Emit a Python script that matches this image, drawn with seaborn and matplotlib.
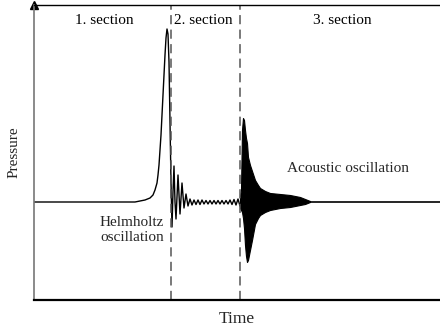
import numpy as np
import pandas as pd
import matplotlib
matplotlib.use("Agg")
import matplotlib.pyplot as plt
import seaborn as sns

# ---- data (arbitrary units) ----
# main trace: baseline, pressure rise, peak and Helmholtz oscillation
main_time = [0, 101, 111, 116, 119, 121, 123, 124, 125, 126, 127, 129, 131, 132, 133,
             134, 135, 136, 137, 138, 139, 140, 141, 142, 144, 146, 148, 150, 152, 154, 156]
main_pressure = [0, 0, 2, 4, 7, 12, 19, 27, 37, 52, 67, 107, 147, 164, 173,
                 168, 140, 80, 20, -25, 10, 36, 0, -17, 27, -12, 19, -6, 8, -4, 3]
# small residual oscillation in section 2
tail_time = [158, 160, 162, 164, 166, 168, 170, 172, 174, 176, 178, 180, 182, 184,
             186, 188, 190, 192, 194, 196, 198, 200, 202, 204, 206]
tail_pressure = [-3, 2, -2.5, 2, -2.5, 2, -2, 1.5, -2, 1.5, -2, 1.5, -2, 1.5,
                 -2, 1.5, -2, 1.5, -2, 2, -2.5, 2.5, -3, 3, -4]
# acoustic burst envelope in section 3
burst_time = [206, 207, 208, 209, 210, 211, 212, 213, 214, 216, 218, 221, 224, 226,
              231, 236, 246, 256, 266, 271, 276]
burst_upper = [6, 12, 72, 84, 82, 72, 64, 59, 45, 37, 31, 22, 17, 14,
               11, 9, 8, 7, 5, 3, 1]
burst_lower = [-6, -8, -10, -16, -26, -43, -54, -60, -58, -48, -38, -22, -16, -13,
               -10, -8, -6, -5, -3, -2, 0]
# baseline after the burst
end_time = [276, 406]
end_pressure = [0, 0]

section_bounds = [137, 206]
section_labels = ["1. section", "2. section", "3. section"]
section_label_pos = [70, 169, 308]

x_range = (0, 406)
y_range = (-98, 197)

# ---- figure ----
sns.set_style("white")
plt.rcParams["font.family"] = ["Liberation Serif", "DejaVu Serif"]

fig = plt.figure(figsize=(4.4, 3.28), dpi=100)
ax = fig.add_axes([34 / 440, 28 / 328, 406 / 440, 295 / 328])

df_main = pd.DataFrame({"t": main_time + tail_time, "p": main_pressure + tail_pressure})
sns.lineplot(data=df_main, x="t", y="p", ax=ax, color="black", lw=1.0,
             sort=False, estimator=None)
df_end = pd.DataFrame({"t": end_time, "p": end_pressure})
sns.lineplot(data=df_end, x="t", y="p", ax=ax, color="black", lw=1.2,
             sort=False, estimator=None)
ax.fill_between(burst_time, burst_lower, burst_upper, color="black", lw=0.8,
                edgecolor="black")

for b in section_bounds:
    ax.axvline(b, color="#555555", lw=1.1, dashes=(6, 3.5))

for lab, xp in zip(section_labels, section_label_pos):
    ax.text(xp, 182, lab, ha="center", va="center", fontsize=11, color="black")

ax.text(66, -28, "Helmholtz\noscillation", ha="left", va="center", fontsize=11,
        linespacing=1.2)
ax.text(314, 33, "Acoustic oscillation", ha="center", va="center", fontsize=11)

ax.set_xlim(*x_range)
ax.set_ylim(*y_range)
ax.set_xticks([])
ax.set_yticks([])
ax.set_xlabel("Time", fontsize=12.5, labelpad=8)
ax.set_ylabel("Pressure", fontsize=11, labelpad=10)

for s in ["top", "bottom"]:
    ax.spines[s].set_color("black")
ax.spines["top"].set_linewidth(1.0)
ax.spines["bottom"].set_linewidth(1.6)
ax.spines["left"].set_color("#777777")
ax.spines["left"].set_linewidth(1.2)
ax.spines["right"].set_visible(False)

ax.plot([0], [1], marker="^", color="black", markersize=6, transform=ax.transAxes,
        clip_on=False)

fig.savefig("out.png", dpi=100)
